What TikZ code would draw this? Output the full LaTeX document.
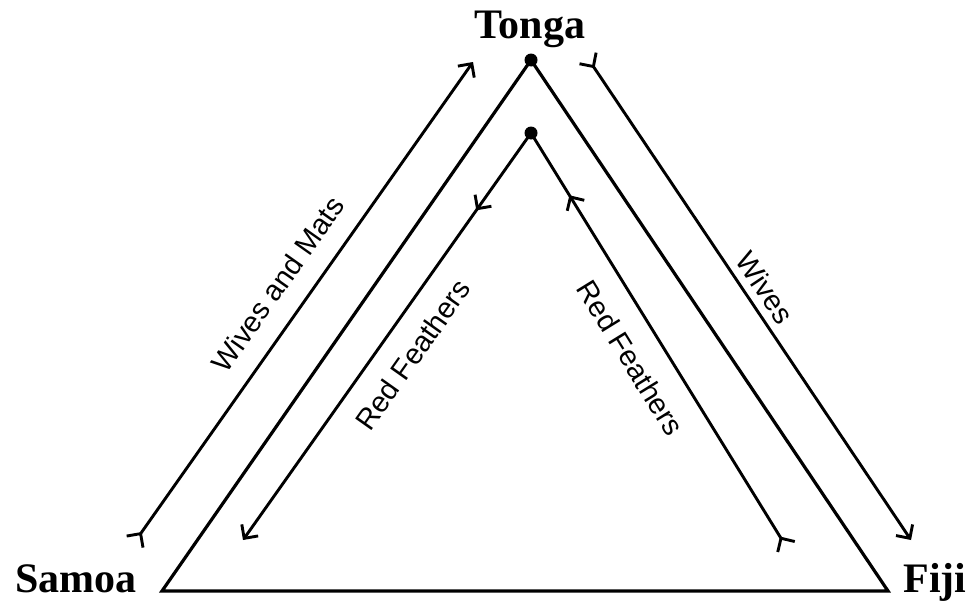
\documentclass[tikz,border=0pt]{standalone}
\usepackage{fontspec}
\setmainfont{Liberation Serif}
\newfontfamily\goodsfont{Liberation Sans}
\usetikzlibrary{arrows.meta, decorations.markings}

\begin{document}
\begin{tikzpicture}[x=0.5pt, y=-0.5pt,
        island/.style={font=\bfseries\fontsize{21}{24}\selectfont, inner sep=0pt, anchor=base},
        dot/.style={circle, fill=black, inner sep=0pt, minimum size=6.5pt},
        side/.style={line width=1.6pt, line join=miter},
        flow/.style={line width=1.45pt, >={Straight Barb[length=5pt, width=10pt]}},
        goods/.style={font=\goodsfont\fontsize{14.5}{16}\selectfont, inner sep=0pt, sloped, midway},
        midarrow/.style={postaction={decorate}, decoration={markings,
            mark=at position #1 with {\arrow{Straight Barb[length=5pt, width=10pt]}}}}
    ]
    \useasboundingbox (0,0) rectangle (972,605);

    % Islands
    \node[island] (tonga) at (530,38) {Tonga};
    \node[island] (samoa) at (76,592) {Samoa};
    \node[island] (fiji) at (935,592) {Fiji};

    % Triangle
    \node[dot] (top) at (531,60) {};
    \node[dot] (inner) at (531,133) {};
    \coordinate (sw) at (162,591);
    \coordinate (se) at (888,591);
    \draw[side] (top.center) -- (sw) -- (se) -- cycle;

    % Arrow ends
    \coordinate (wmTail) at (134,543);
    \coordinate (wmHead) at (473,62);
    \coordinate (wvTail) at (587,57);
    \coordinate (wvHead) at (911,540);
    \coordinate (rfHead) at (243,540);
    \coordinate (rfTail) at (787,548);

    % Exchanges
    \draw[flow, >->] (wmTail) -- (wmHead)
        node[goods, above=9.7pt] {Wives and Mats};
    \draw[flow, >->] (wvTail) -- (wvHead)
        node[goods, above=3.5pt] {Wives};
    \draw[flow, ->, midarrow=0.19] (inner.center) -- (rfHead)
        node[goods, below=9.7pt] {Red Feathers};
    \draw[flow, >-, midarrow=0.85] (rfTail) -- (inner.center)
        node[goods, below=10.7pt] {Red Feathers};

\end{tikzpicture}
\end{document}
